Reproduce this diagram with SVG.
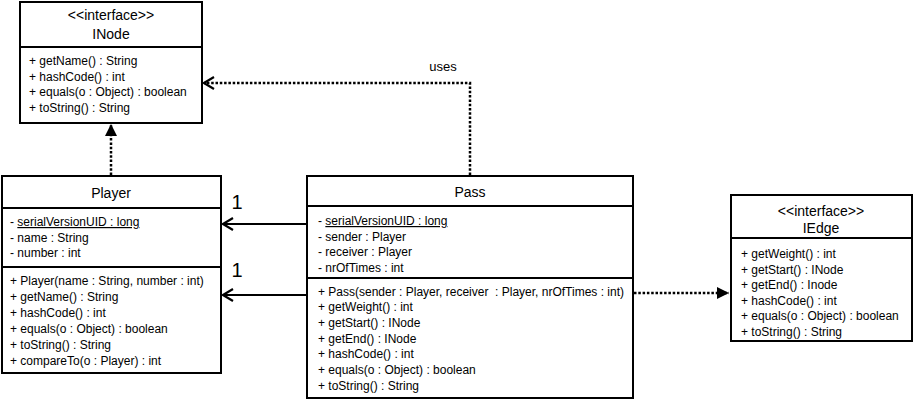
<svg xmlns="http://www.w3.org/2000/svg" width="914" height="400" viewBox="0 0 914 400">
<style>
.box{fill:#fff;stroke:#000;stroke-width:2}
.div{stroke:#000;stroke-width:2}
text{font-family:"Liberation Sans",Arial,sans-serif;fill:#000}
.t{font-size:14px;text-anchor:middle}
.m{font-size:12px}
.u{text-decoration:underline}
.lbl{font-size:20px}
.uses{font-size:13px}
.solid{fill:none;stroke:#000;stroke-width:2}
.dot{fill:none;stroke:#000;stroke-width:2.5;stroke-dasharray:2.5 1.8}
</style>
<defs>
<marker id="open" viewBox="0 0 14 14" markerWidth="14" markerHeight="14" refX="13" refY="7" orient="auto" markerUnits="userSpaceOnUse">
<path d="M3,1 L13,7 L3,13" fill="none" stroke="#000" stroke-width="2.2"/>
</marker>
<marker id="tri" viewBox="0 0 12 12" markerWidth="12" markerHeight="12" refX="12" refY="6" orient="auto" markerUnits="userSpaceOnUse">
<path d="M0,0 L12,6 L0,12 z" fill="#000"/>
</marker>
</defs>

<g id="INode">
<rect class="box" x="20" y="2" width="182" height="121"/>
<line class="div" x1="20" y1="47" x2="202" y2="47"/>
<text class="t" x="111" y="20">&lt;&lt;interface&gt;&gt;</text>
<text class="t" x="111" y="39">INode</text>
<text class="m" x="29" y="65">+ getName() : String</text>
<text class="m" x="29" y="81">+ hashCode() : int</text>
<text class="m" x="29" y="96">+ equals(o : Object) : boolean</text>
<text class="m" x="29" y="112">+ toString() : String</text>
</g>

<g id="Player">
<rect class="box" x="2" y="176" width="219" height="197"/>
<line class="div" x1="2" y1="208" x2="221" y2="208"/>
<line class="div" x1="2" y1="267" x2="221" y2="267"/>
<text class="t" x="111" y="198">Player</text>
<text class="m" x="10" y="226">- <tspan class="u">serialVersionUID : long</tspan></text>
<text class="m" x="10" y="242">- name : String</text>
<text class="m" x="10" y="257">- number : int</text>
<text class="m" x="10" y="285">+ Player(name : String, number : int)</text>
<text class="m" x="10" y="301">+ getName() : String</text>
<text class="m" x="10" y="317">+ hashCode() : int</text>
<text class="m" x="10" y="333">+ equals(o : Object) : boolean</text>
<text class="m" x="10" y="349">+ toString() : String</text>
<text class="m" x="10" y="365">+ compareTo(o : Player) : int</text>
</g>

<g id="Pass">
<rect class="box" x="307" y="176" width="326" height="222"/>
<line class="div" x1="307" y1="206" x2="633" y2="206"/>
<line class="div" x1="307" y1="278" x2="633" y2="278"/>
<text class="t" x="470" y="197">Pass</text>
<text class="m" x="318" y="225">- <tspan class="u">serialVersionUID : long</tspan></text>
<text class="m" x="318" y="241">- sender : Player</text>
<text class="m" x="318" y="256">- receiver : Player</text>
<text class="m" x="318" y="272">- nrOfTimes : int</text>
<text class="m" x="318" y="296" xml:space="preserve">+ Pass(sender : Player, receiver  : Player, nrOfTimes : int)</text>
<text class="m" x="318" y="311">+ getWeight() : int</text>
<text class="m" x="318" y="327">+ getStart() : INode</text>
<text class="m" x="318" y="343">+ getEnd() : INode</text>
<text class="m" x="318" y="358">+ hashCode() : int</text>
<text class="m" x="318" y="374">+ equals(o : Object) : boolean</text>
<text class="m" x="318" y="390">+ toString() : String</text>
</g>

<g id="IEdge">
<rect class="box" x="731" y="195" width="181" height="146"/>
<line class="div" x1="731" y1="238" x2="912" y2="238"/>
<text class="t" x="821" y="216">&lt;&lt;interface&gt;&gt;</text>
<text class="t" x="821" y="233">IEdge</text>
<text class="m" x="741" y="258">+ getWeight() : int</text>
<text class="m" x="741" y="274">+ getStart() : INode</text>
<text class="m" x="741" y="289">+ getEnd() : Inode</text>
<text class="m" x="741" y="305">+ hashCode() : int</text>
<text class="m" x="741" y="320">+ equals(o : Object) : boolean</text>
<text class="m" x="741" y="336">+ toString() : String</text>
</g>

<g id="connectors">
<path class="dot" d="M111,175 L111,124" marker-end="url(#tri)"/>
<path class="dot" d="M470,175 L470,83 L204,83" marker-end="url(#open)"/>
<text class="uses" x="443" y="71" text-anchor="middle">uses</text>
<path class="solid" d="M307,224 L223,224" marker-end="url(#open)"/>
<text class="lbl" x="237" y="209" text-anchor="middle">1</text>
<path class="solid" d="M307,295 L223,295" marker-end="url(#open)"/>
<text class="lbl" x="237" y="277" text-anchor="middle">1</text>
<path class="dot" d="M634,293 L729,293" marker-end="url(#tri)"/>
</g>
</svg>
